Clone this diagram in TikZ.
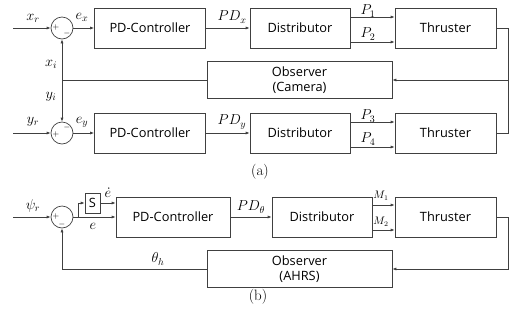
\documentclass[tikz,border=0pt]{standalone}
\usepackage{fontspec}
\setsansfont{Open Sans}
\usetikzlibrary{arrows.meta,calc}
\begin{document}
\begin{tikzpicture}[x=1pt,y=-1pt,
 blk/.style={draw=black!75, line width=0.7pt, font=\sffamily\fontsize{12.8}{15.5}\selectfont, inner sep=0pt, align=center},
 sumc/.style={circle, draw=black!75, line width=0.7pt, minimum size=22pt, inner sep=0pt},
 sgn/.style={font=\fontsize{8}{8}\selectfont, inner sep=0pt},
 sig/.style={draw=black!75, line width=0.7pt, -{Latex[length=4pt,width=3pt]}},
 ln/.style={draw=black!75, line width=0.7pt},
 lbl/.style={font=\fontsize{14}{16}\selectfont, inner sep=0pt},
 slbl/.style={font=\fontsize{10.5}{12}\selectfont, inner sep=0pt},
 captxt/.style={font=\fontsize{15}{17}\selectfont, inner sep=0pt}
]
\useasboundingbox (0,0) rectangle (509,325);

% ---------- (a) ----------
\node[sumc] (s1) at (62,28) {};
\node[sgn] (s1p) at (56,27) {$+$};
\node[sgn] (s1m) at (67,33) {$-$};
\node[blk, minimum width=111pt, minimum height=40pt] (pd1) at (150,28) {PD-Controller};
\node[blk, minimum width=100pt, minimum height=40pt] (d1) at (300,28) {Distributor};
\node[blk, minimum width=101pt, minimum height=40pt] (t1) at (445.5,28) {Thruster};
\node[blk, minimum width=185pt, minimum height=37pt] (o1) at (299.5,80) {Observer\\(Camera)};

\node[sumc] (s2) at (62,133) {};
\node[sgn] (s2p) at (56,134) {$+$};
\node[sgn] (s2m) at (67,127) {$-$};
\node[blk, minimum width=111pt, minimum height=40pt] (pd2) at (150,133) {PD-Controller};
\node[blk, minimum width=100pt, minimum height=40pt] (d2) at (300,133) {Distributor};
\node[blk, minimum width=101pt, minimum height=40pt] (t2) at (445.5,133) {Thruster};

\coordinate (xin) at (13,28);
\coordinate (yin) at (13,133);
\coordinate (j1) at (62,80);
\coordinate (r1) at (508,28);
\coordinate (r2) at (508,80);

\draw[sig] (xin) -- (s1.west);
\draw[sig] (s1.east) -- (pd1.west);
\draw[sig] (pd1.east) -- (d1.west);
\draw[sig] ($(d1.east)+(0,-11)$) -- ($(t1.west)+(0,-11)$);
\draw[sig] ($(d1.east)+(0,14)$) -- ($(t1.west)+(0,14)$);
\draw[ln] (t1.east) -- (r1) |- (t2.east);
\draw[sig] (r2) -- (o1.east);
\draw[ln] (o1.west) -- (j1);
\draw[sig] (j1) -- (s1.south);
\draw[sig] (j1) -- (s2.north);

\draw[sig] (yin) -- (s2.west);
\draw[sig] (s2.east) -- (pd2.west);
\draw[sig] (pd2.east) -- (d2.west);
\draw[sig] ($(d2.east)+(0,-11)$) -- ($(t2.west)+(0,-11)$);
\draw[sig] ($(d2.east)+(0,14)$) -- ($(t2.west)+(0,14)$);

\node[lbl] (lxr) at (33,18) {$x_r$};
\node[lbl] (lex) at (82,17) {$e_x$};
\node[lbl] (lpdx) at (232,17) {$PD_x$};
\node[lbl] (lp1) at (368,11) {$P_1$};
\node[lbl] (lp2) at (368,34) {$P_2$};
\node[lbl] (lxi) at (51,64) {$x_i$};
\node[lbl] (lyi) at (51,97) {$y_i$};
\node[lbl] (lyr) at (33,122) {$y_r$};
\node[lbl] (ley) at (82,122) {$e_y$};
\node[lbl] (lpdy) at (232,122) {$PD_y$};
\node[lbl] (lp3) at (368,116) {$P_3$};
\node[lbl] (lp4) at (368,139) {$P_4$};
\node[captxt] (ca) at (260,172) {(a)};

% ---------- (b) ----------
\node[sumc] (s3) at (62,217) {};
\node[sgn] (s3p) at (56,216) {$+$};
\node[sgn] (s3m) at (62,224) {$-$};
\node[blk, minimum width=15pt, minimum height=20pt] (sb) at (92.5,203) {S};
\node[blk, minimum width=114pt, minimum height=40pt] (pd3) at (173,217) {PD-Controller};
\node[blk, minimum width=100pt, minimum height=40pt] (d3) at (322,217) {Distributor};
\node[blk, minimum width=101pt, minimum height=40pt] (t3) at (445.5,217) {Thruster};
\node[blk, minimum width=185pt, minimum height=37pt] (o2) at (299.5,269) {Observer\\(AHRS)};

\coordinate (pin) at (13,217);
\coordinate (br) at (78,217);
\coordinate (r3) at (508,217);
\coordinate (j3) at (62,269);

\draw[sig] (pin) -- (s3.west);
\draw[sig] (s3.east) -- (pd3.west);
\draw[ln] (br) |- ($(sb.west)+(-6,0)$);
\draw[sig] ($(sb.west)+(-6,0)$) -- (sb.west);
\draw[sig] (sb.east) -- (pd3.west |- sb.east);
\draw[sig] (pd3.east) -- (d3.west);
\draw[sig] ($(d3.east)+(0,-12)$) -- ($(t3.west)+(0,-12)$);
\draw[sig] ($(d3.east)+(0,13)$) -- ($(t3.west)+(0,13)$);
\draw[sig] (t3.east) -- (r3) |- (o2.east);
\draw[ln] (o2.west) -- (j3);
\draw[sig] (j3) -- (s3.south);

\node[lbl] (lpsi) at (33,206) {$\psi_r$};
\node[lbl] (led) at (108,193) {$\dot e$};
\node[lbl] (le) at (93,226) {$e$};
\node[lbl] (lpdt) at (251,207) {$PD_\theta$};
\node[slbl] (lm1) at (381,196) {$M_1$};
\node[slbl] (lm2) at (381,222) {$M_2$};
\node[lbl] (lth) at (158,259) {$\theta_h$};
\node[captxt] (cb) at (258,297) {(b)};
\end{tikzpicture}
\end{document}
